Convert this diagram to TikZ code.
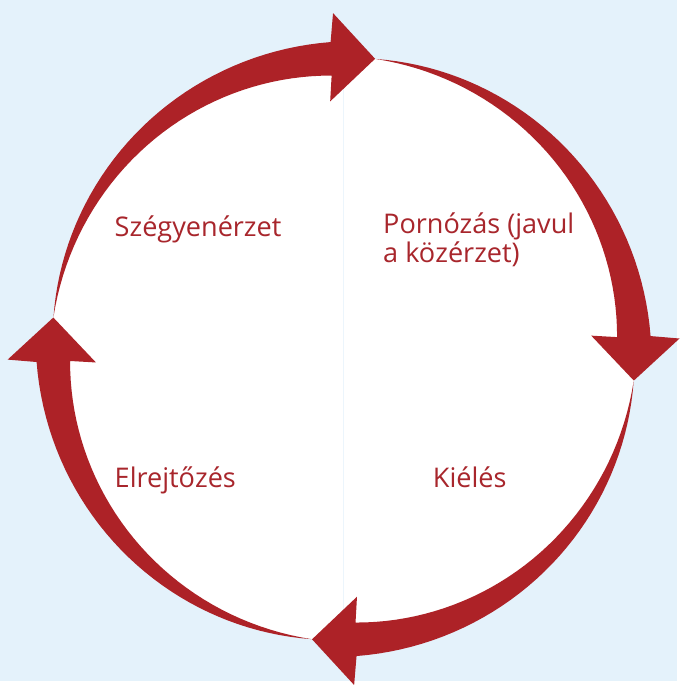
\documentclass[tikz,border=0pt]{standalone}
\usepackage{fontspec}
\setmainfont{Open Sans}
\usepackage{tikz}
\definecolor{cyclered}{RGB}{173,34,39}
\definecolor{textred}{RGB}{168,38,44}
\definecolor{paleblue}{RGB}{228,242,251}
\definecolor{seamblue}{RGB}{236,245,252}

\begin{document}
\begin{tikzpicture}[x=0.02cm, y=0.02cm,
  every node/.style={font=\fontsize{15.5}{16.7}\selectfont, text=textred, inner sep=0pt},
  cyclearrow/.style={fill=cyclered}]
  % background and disc
  \fill[paleblue] (-345.5,-334) rectangle (335.5,351);
  \fill[white] (0,0) circle (293.5);
  \draw[seamblue, line width=0.6pt] (0,293.5) -- (0,-293.5);
  % four tapered arrows, one per quarter
  \foreach \k in {0,1,2,3}{
    \begin{scope}[rotate=-90*\k]
      \fill[cyclearrow] plot[domain=0:1, samples=40] ({173.7-81.3*\x}:{293.5+15.5*\x})
        -- (91.8:338) -- (83.8:293.6) -- (93.1:249.4)
        -- plot[domain=1:0, samples=40] ({173.7-81.2*\x}:{293.5-18.2*\x}) -- cycle;
    \end{scope}
  }
  % labels
  \node[anchor=base west] (shame) at (-230.5,113) {Szégyenérzet};
  \node[anchor=base west, align=left] (porn) at (39.5,87) {Pornózás (javul\\a közérzet)};
  \node[anchor=base west] (hide) at (-230.5,-139) {Elrejtőzés};
  \node[anchor=base west] (relief) at (89.5,-139) {Kiélés};
\end{tikzpicture}
\end{document}
